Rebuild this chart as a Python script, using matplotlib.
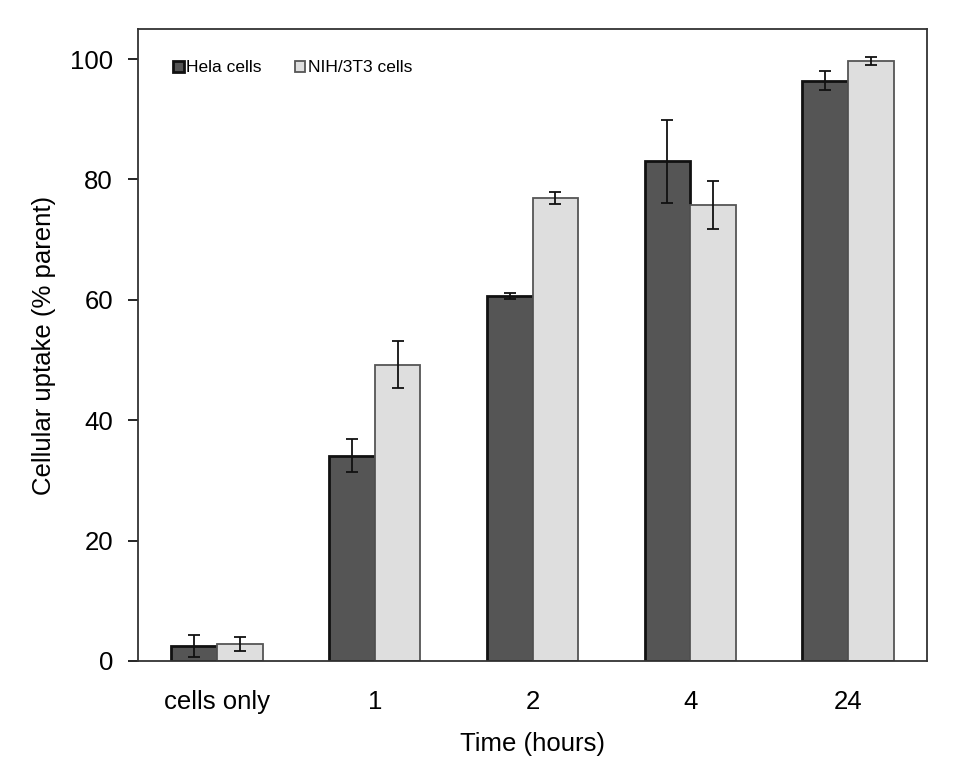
import numpy as np
import matplotlib.pyplot as plt

plt.rcParams['font.family'] = ['Liberation Sans', 'DejaVu Sans']

categories = ['cells only', '1', '2', '4', '24']
hela = [2.5, 34.1, 60.6, 83.0, 96.4]
hela_err = [1.9, 2.7, 0.5, 6.9, 1.6]
nih = [2.8, 49.2, 77.0, 75.8, 99.7]
nih_err = [1.2, 3.9, 1.0, 4.0, 0.7]

fig = plt.figure(figsize=[9.67, 7.81], dpi=100)
ax = fig.add_axes([138/967, 1-661/781, (927-138)/967, (661-29)/781])

x = np.arange(len(categories))
w = 0.29
ekw = dict(elinewidth=1.3, capthick=1.3, ecolor='#111111')
ax.bar(x - w/2, hela, w, yerr=hela_err, color='#555555', edgecolor='#111111',
       linewidth=2, capsize=4, error_kw=ekw, label='Hela cells', zorder=2)
ax.bar(x + w/2, nih, w, yerr=nih_err, color='#dedede', edgecolor='#555555',
       linewidth=1.3, capsize=4, error_kw=ekw, label='NIH/3T3 cells', zorder=2)

ax.set_xlim(-0.5, 4.5)
ax.set_ylim(0, 105)
ax.set_yticks([0, 20, 40, 60, 80, 100])
ax.set_xticks(x)
ax.set_xticklabels(categories)
ax.tick_params(axis='x', length=0, pad=21, labelsize=18.5)
ax.tick_params(axis='y', direction='out', length=7, width=1.2, pad=11, labelsize=18.5)
for s in ax.spines.values():
    s.set_color('#333333')
    s.set_linewidth(1.3)

ax.set_xlabel('Time (hours)', fontsize=18.5, labelpad=13)
ax.set_ylabel('Cellular uptake (% parent)', fontsize=18.5, labelpad=10)

leg = ax.legend(loc='upper left', bbox_to_anchor=(0.025, 0.975), ncol=2, frameon=False,
                fontsize=12.5, handlelength=0.6, handleheight=0.6, handletextpad=0.15,
                columnspacing=1.9)

fig.savefig('out.png', dpi=100)
